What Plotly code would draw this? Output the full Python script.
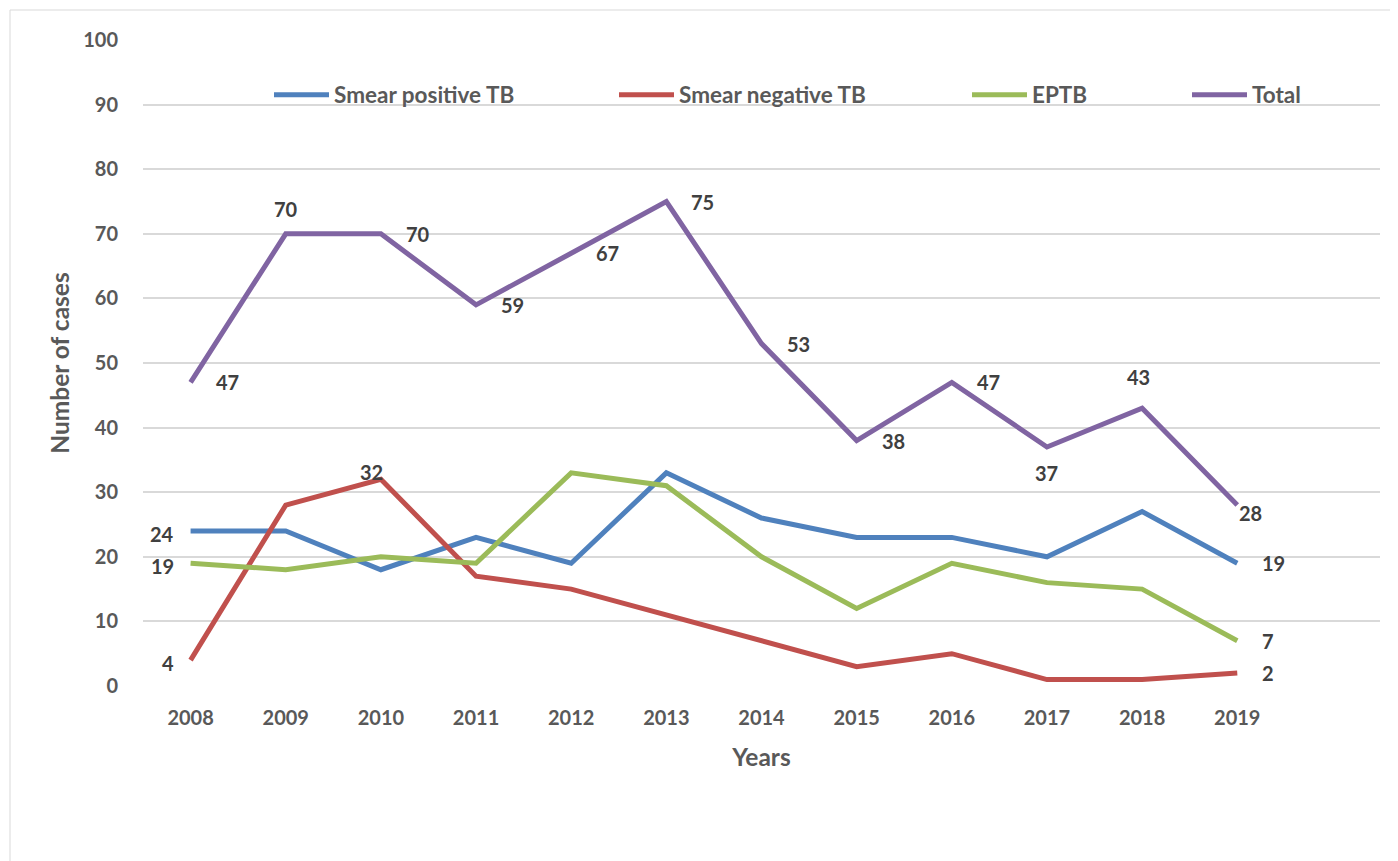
import plotly.graph_objects as go

years = ["2008", "2009", "2010", "2011", "2012", "2013", "2014", "2015", "2016", "2017", "2018", "2019"]
smear_pos = [24, 24, 18, 23, 19, 33, 26, 23, 23, 20, 27, 19]
smear_neg = [4, 28, 32, 17, 15, 11, 7, 3, 5, 1, 1, 2]
eptb = [19, 18, 20, 19, 33, 31, 20, 12, 19, 16, 15, 7]
total = [47, 70, 70, 59, 67, 75, 53, 38, 47, 37, 43, 28]

# data label placement per point: r=right, l=left, t=above, b=below, br=below-right, tl=above-left, n=none
pos_lbl = ["l"] + ["n"] * 10 + ["r"]
neg_lbl = ["l", "n", "tl"] + ["n"] * 8 + ["r"]
ep_lbl = ["l"] + ["n"] * 10 + ["r"]
tot_lbl = ["r", "t", "r", "r", "r", "r", "r", "r", "r", "b", "t2", "br"]

FONT = "Lato"
LABEL = "#404040"
AXIS = "#595959"
W, H = 1398, 861
L, R, T, B = 135, 26, 32, 183
pw = W - L - R
ph = H - T - B

series = [
    ("Smear positive TB", smear_pos, pos_lbl, "#4F81BD", "legend", 261),
    ("Smear negative TB", smear_neg, neg_lbl, "#C0504D", "legend2", 606),
    ("EPTB", eptb, ep_lbl, "#9BBB59", "legend3", 959),
    ("Total", total, tot_lbl, "#8064A2", "legend4", 1179),
]

PLACE = {
    "r": dict(xanchor="left", yanchor="middle", xshift=23, yshift=0),
    "l": dict(xanchor="right", yanchor="middle", xshift=-15, yshift=-3),
    "t": dict(xanchor="center", yanchor="middle", xshift=0, yshift=25),
    "t2": dict(xanchor="center", yanchor="middle", xshift=-4, yshift=31),
    "b": dict(xanchor="center", yanchor="middle", xshift=0, yshift=-26),
    "br": dict(xanchor="left", yanchor="middle", xshift=0, yshift=-8),
    "tl": dict(xanchor="center", yanchor="middle", xshift=-9, yshift=7),
}

fig = go.Figure()
annotations = []
for name, vals, lbl, color, lg, lx in series:
    fig.add_trace(go.Scatter(
        x=years, y=vals, name=name, mode="lines",
        line=dict(color=color, width=5),
        legend=lg, cliponaxis=False,
    ))
    for i, (v, p) in enumerate(zip(vals, lbl)):
        if p == "n":
            continue
        annotations.append(dict(
            x=i, y=v, xref="x", yref="y", text=str(v), showarrow=False,
            font=dict(family=FONT, size=20, color=LABEL, weight="bold"),
            **PLACE[p],
        ))

def lg_cfg(xpx):
    return dict(
        x=(xpx - L) / pw, xanchor="left",
        y=(678 - 87) / ph, yanchor="middle",
        orientation="h", bgcolor="rgba(0,0,0,0)", borderwidth=0,
        font=dict(family=FONT, size=22.5, color=AXIS, weight="bold"),
        itemwidth=55, tracegroupgap=0,
    )

fig.update_layout(
    width=W, height=H, autosize=False,
    margin=dict(l=L, r=R, t=T, b=B),
    paper_bgcolor="white", plot_bgcolor="white",
    showlegend=True,
    legend=lg_cfg(series[0][5]),
    legend2=lg_cfg(series[1][5]),
    legend3=lg_cfg(series[2][5]),
    legend4=lg_cfg(series[3][5]),
    annotations=annotations,
    xaxis=dict(
        type="category", range=[-0.5, 12.5],
        showgrid=False, zeroline=False, showline=False,
        ticks="outside", ticklen=14, tickcolor="rgba(0,0,0,0)",
        tickfont=dict(family=FONT, size=20, color=AXIS, weight="bold"),
        title=dict(text="Years", font=dict(family=FONT, size=24.5, color=AXIS, weight="bold"), standoff=20),
    ),
    yaxis=dict(
        range=[0, 100], dtick=10,
        showgrid=True, gridcolor="#D9D9D9", gridwidth=1.5,
        zeroline=False, showline=False,
        ticks="outside", ticklen=20, tickcolor="rgba(0,0,0,0)",
        tickfont=dict(family=FONT, size=20, color=AXIS, weight="bold"),
        title=dict(text="Number of cases", font=dict(family=FONT, size=24.5, color=AXIS, weight="bold"), standoff=6),
    ),
    shapes=[dict(
        type="rect", xref="paper", yref="paper",
        x0=(2 - L) / pw, x1=(W + 20 - L) / pw,
        y0=(678 - (H + 20)) / ph, y1=(678 - 2) / ph,
        line=dict(color="#D9D9D9", width=1), fillcolor="rgba(0,0,0,0)", layer="below",
    )],
)

fig.write_html("out.html")
